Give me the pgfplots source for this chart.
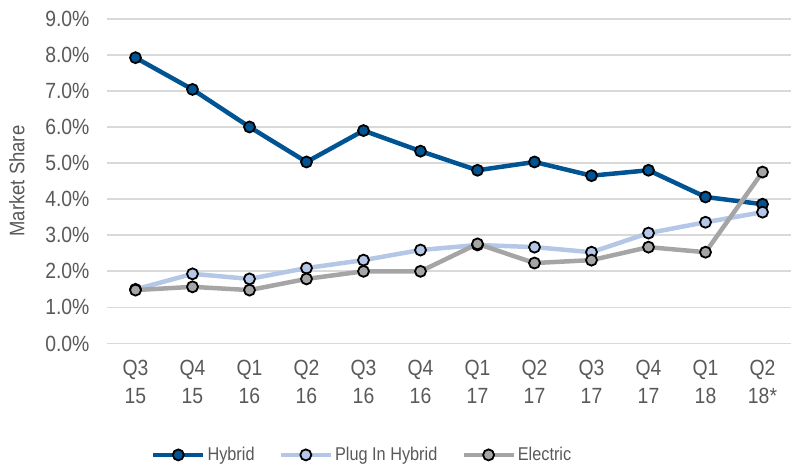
\documentclass[border=0pt]{standalone}
\usepackage{fontspec}
\setmainfont{Liberation Sans}[FakeStretch=0.88]
\usepackage{pgfplots}
\pgfplotsset{compat=1.18}
\definecolor{hyb}{RGB}{0,84,147}
\definecolor{plug}{RGB}{180,199,231}
\definecolor{elec}{RGB}{165,165,165}
\definecolor{gridc}{RGB}{217,217,217}
\definecolor{txt}{RGB}{89,89,89}
\begin{document}
\begin{tikzpicture}
\path[use as bounding box] (-107pt,-121.5pt) rectangle (684pt,343.5pt);
\begin{axis}[
  at={(0pt,0pt)}, anchor=south west,
  scale only axis, width=684pt, height=324.8pt,
  xmin=-0.5, xmax=11.5, ymin=0, ymax=9,
  axis line style={draw=none},
  tick style={draw=none},
  ytick={0,1,...,9},
  yticklabel={\pgfmathprintnumber[fixed,fixed zerofill,precision=1]{\tick}\%},
  yticklabel style={font=\fontsize{22}{26}\selectfont, text=txt, anchor=east, xshift=-14pt},
  /pgf/number format/assume math mode=true,
  ymajorgrids, grid style={gridc, line width=1.8pt},
  xtick={0,...,11},
  xticklabels={{Q3\\15},{Q4\\15},{Q1\\16},{Q2\\16},{Q3\\16},{Q4\\16},{Q1\\17},{Q2\\17},{Q3\\17},{Q4\\17},{Q1\\18},{Q2\\18*}},
  xticklabel style={font=\fontsize{22}{28}\selectfont, text=txt, align=center, anchor=north, yshift=-13pt},
  ylabel={Market Share},
  ylabel style={at={(axis description cs:-0.1316,0.5)}, anchor=center, rotate=0, font=\fontsize{21}{24}\selectfont, text=txt},
  every axis plot/.append style={line width=4.5pt, mark=*},
  legend style={at={(0.373,-0.343)}, anchor=center, draw=none, fill=none, legend columns=3,
    font=\fontsize{18.5}{22}\selectfont, text=txt,
    /tikz/every even column/.append style={column sep=22pt}},
  legend image code/.code={\draw[mark repeat=2,mark phase=2] plot coordinates {(0pt,0pt) (25pt,0pt) (50pt,0pt)};},
  clip=false,
]
\addplot[color=hyb, mark options={fill=hyb, draw=black, line width=1.8pt, mark size=5.5pt}] coordinates {
(0,7.92) (1,7.04) (2,6.0) (3,5.03) (4,5.9) (5,5.33) (6,4.8) (7,5.03) (8,4.65) (9,4.8) (10,4.06) (11,3.86)};
\addlegendentry{Hybrid}
\addplot[color=plug, mark options={fill=plug, draw=black, line width=1.8pt, mark size=5.5pt}] coordinates {
(0,1.5) (1,1.93) (2,1.79) (3,2.09) (4,2.31) (5,2.59) (6,2.73) (7,2.67) (8,2.53) (9,3.06) (10,3.36) (11,3.64)};
\addlegendentry{Plug In Hybrid}
\addplot[color=elec, mark options={fill=elec, draw=black, line width=1.8pt, mark size=5.5pt}] coordinates {
(0,1.48) (1,1.57) (2,1.48) (3,1.79) (4,2.0) (5,2.0) (6,2.76) (7,2.23) (8,2.31) (9,2.67) (10,2.53) (11,4.75)};
\addlegendentry{Electric}
\end{axis}
\end{tikzpicture}
\end{document}
